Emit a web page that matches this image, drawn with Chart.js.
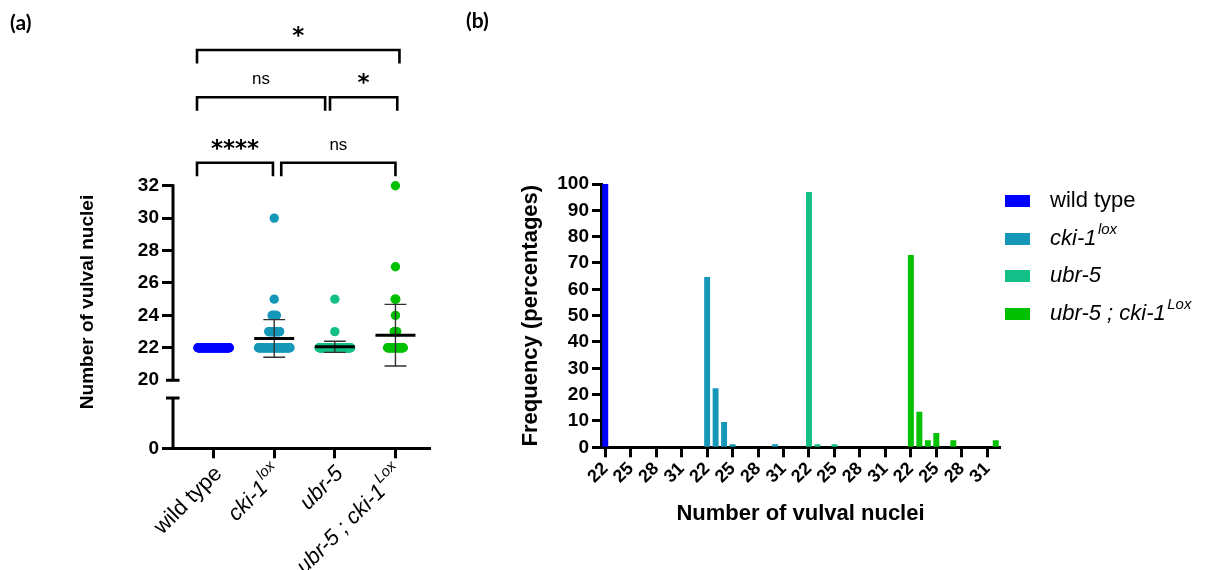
<!DOCTYPE html>
<html><head><meta charset="utf-8">
<script src="https://cdn.jsdelivr.net/npm/chart.js@4/dist/chart.umd.min.js"></script>
<style>
html,body{margin:0;padding:0;background:#fff;width:1206px;height:570px;overflow:hidden;position:relative;}
#ca{position:absolute;left:0;top:0;}
#cb{position:absolute;left:470px;top:0;}
.pl{position:absolute;font-family:Lato,'Liberation Sans',sans-serif;font-weight:bold;font-size:21px;color:#000;line-height:1;}
</style></head><body>
<canvas id="ca" width="470" height="570"></canvas>
<canvas id="cb" width="736" height="570"></canvas>
<div class="pl" style="left:10px;top:11px">(a)</div>
<div class="pl" style="left:466px;top:9px">(b)</div>
<script>
// ---------- data ----------
const genotypeBase   = ['wild type', 'cki-1', 'ubr-5', 'ubr-5 ; cki-1'];
const genotypeSup    = ['', 'lox', '', 'Lox'];
const genotypeItalic = [false, true, true, true];
const genotypeColors = ['#0000FF', '#1598B8', '#12C087', '#00C000'];

const nucleiValues = [22, 23, 24, 25, 26, 27, 28, 29, 30, 31, 32];

// panel (a): number of animals per vulval nuclei count
const wildTypeCounts = [80, 0, 0, 0, 0, 0, 0, 0, 0, 0, 0];
const cki1Counts     = [55, 19, 8, 1, 0, 0, 0, 0, 1, 0, 0];
const ubr5Counts     = [81, 1, 0, 1, 0, 0, 0, 0, 0, 0, 0];
const ubr5Cki1Counts = [27, 5, 1, 2, 0, 1, 0, 0, 0, 0, 1];
const meanValues = [null, 22.58, 22.06, 22.78];
const sdValues   = [null, 1.16, 0.34, 1.90];
const yTicksA = [20, 22, 24, 26, 28, 30, 32];

// significance comparisons (group indices) and labels
const comparisonPairs  = [[0, 1], [1, 3], [0, 2], [2, 3], [0, 3]];
const comparisonLabels = ['****', 'ns', 'ns', '*', '*'];

// panel (b): frequency in percent per vulval nuclei count
const wildTypePct = [100, 0, 0, 0, 0, 0, 0, 0, 0, 0, 0];
const cki1Pct     = [64.7, 22.4, 9.6, 1.2, 0, 0, 0, 0, 1.2, 0, 0];
const ubr5Pct     = [97.0, 1.2, 0, 1.2, 0, 0, 0, 0, 0, 0, 0];
const ubr5Cki1Pct = [73.0, 13.5, 2.7, 5.4, 0, 2.7, 0, 0, 0, 0, 2.7];
const xTickLabelsB = ['22', '25', '28', '31'];

// ---------- layout / style ----------
const FONT = '"Liberation Sans", Arial, sans-serif';
const bracketLayout = [
  {x0: 0.726, x1: 1.979, level: 0},
  {x0: 2.116, x1: 4.0,   level: 0},
  {x0: 0.726, x1: 2.84,  level: 1},
  {x0: 2.92,  x1: 4.03,  level: 1},
  {x0: 0.726, x1: 4.066, level: 2}
];
const bracketLevelPx = [23, 88.4, 135.7];
const bracketLegPx = 13.5;

function swarm(counts, gi) {
  const pts = [];
  counts.forEach((n, k) => {
    const half = Math.min(0.26, 0.005 * (n - 1));
    for (let j = 0; j < n; j++) {
      const off = n > 1 ? -half + 2 * half * j / (n - 1) : 0;
      pts.push({x: gi + 1 + off, y: nucleiValues[k]});
    }
  });
  return pts;
}

function richParts(ctx, i, size) {
  const segs = [{t: genotypeBase[i], sup: false}];
  if (genotypeSup[i]) segs.push({t: genotypeSup[i], sup: true});
  return segs.map(s => {
    const fs = s.sup ? size * 0.68 : size;
    const font = (genotypeItalic[i] ? 'italic ' : '') + fs + 'px ' + FONT;
    ctx.font = font;
    return {t: s.t, font, w: ctx.measureText(s.t).width + (!s.sup && genotypeItalic[i] && genotypeSup[i] ? 1.5 : 0), dy: s.sup ? -size * 0.42 : 0};
  });
}
function drawRich(ctx, i, x, y, size, alignRight) {
  const parts = richParts(ctx, i, size);
  const total = parts.reduce((a, p) => a + p.w, 0);
  let cx = alignRight ? x - total : x;
  ctx.textAlign = 'left';
  parts.forEach(p => { ctx.font = p.font; ctx.fillText(p.t, cx, y + p.dy); cx += p.w; });
}

// ---------- panel (a) ----------
const countsA = [wildTypeCounts, cki1Counts, ubr5Counts, ubr5Cki1Counts];
const dsA = countsA.map((c, i) => ({
  type: 'scatter',
  data: swarm(c, i),
  backgroundColor: genotypeColors[i],
  borderColor: genotypeColors[i],
  pointRadius: 4.7,
  pointBorderWidth: 0,
  pointHoverRadius: 0,
  clip: false
}));

const panelAPlugin = {
  id: 'panelA',
  afterDraw(chart) {
    const ctx = chart.ctx, ca = chart.chartArea;
    const xs = chart.scales.x, ys = chart.scales.y, y0 = chart.scales.y0;
    const ax = ca.left;
    ctx.save();
    ctx.strokeStyle = '#000';
    ctx.lineCap = 'butt';
    ctx.lineWidth = 3;
    const yTop = ys.getPixelForValue(32), y20 = ys.getPixelForValue(20);
    const yBrk = y0.getPixelForValue(3.1), yZero = y0.getPixelForValue(0);
    ctx.beginPath();
    ctx.moveTo(ax, yTop - 1.5); ctx.lineTo(ax, y20 + 1.5);
    ctx.moveTo(ax, yBrk - 1.5); ctx.lineTo(ax, yZero + 1.5);
    ctx.moveTo(ax - 7, y20); ctx.lineTo(ax + 6.5, y20);
    ctx.moveTo(ax - 7, yBrk); ctx.lineTo(ax + 6.5, yBrk);
    ctx.stroke();

    const unit = xs.getPixelForValue(2) - xs.getPixelForValue(1);
    meanValues.forEach((m, i) => {
      if (m == null) return;
      const xc = xs.getPixelForValue(i + 1);
      const yt = ys.getPixelForValue(m + sdValues[i]);
      const yb = ys.getPixelForValue(m - sdValues[i]);
      const ym = ys.getPixelForValue(m);
      ctx.strokeStyle = '#303030';
      ctx.lineWidth = 1.4;
      ctx.beginPath();
      ctx.moveTo(xc, yt); ctx.lineTo(xc, yb);
      ctx.moveTo(xc - 0.18 * unit, yt); ctx.lineTo(xc + 0.18 * unit, yt);
      ctx.moveTo(xc - 0.18 * unit, yb); ctx.lineTo(xc + 0.18 * unit, yb);
      ctx.stroke();
      ctx.strokeStyle = '#000';
      ctx.lineWidth = 3;
      ctx.beginPath();
      ctx.moveTo(xc - 0.33 * unit, ym); ctx.lineTo(xc + 0.33 * unit, ym);
      ctx.stroke();
    });

    ctx.strokeStyle = '#000';
    ctx.lineWidth = 2.6;
    ctx.fillStyle = '#000';
    comparisonPairs.forEach((p, k) => {
      const b = bracketLayout[k];
      const xl = xs.getPixelForValue(b.x0), xr = xs.getPixelForValue(b.x1);
      const yh = ca.top - bracketLevelPx[b.level];
      ctx.beginPath();
      ctx.moveTo(xl, yh + bracketLegPx); ctx.lineTo(xl, yh); ctx.lineTo(xr, yh); ctx.lineTo(xr, yh + bracketLegPx);
      ctx.stroke();
      const lbl = comparisonLabels[k];
      const xm = (xl + xr) / 2;
      ctx.textAlign = 'center';
      ctx.textBaseline = 'alphabetic';
      if (lbl === 'ns') {
        ctx.font = '17px ' + FONT;
        ctx.fillText(lbl, xm, yh - 13);
      } else {
        ctx.font = 'bold 23px "DejaVu Sans", sans-serif';
        ctx.fillText(lbl, xm, yh - 7);
      }
    });

    ctx.fillStyle = '#000';
    ctx.textBaseline = 'middle';
    genotypeBase.forEach((g, i) => {
      const x = xs.getPixelForValue(i + 1);
      ctx.save();
      ctx.translate(x + 5, ca.bottom + 22);
      ctx.rotate(-Math.PI / 4);
      drawRich(ctx, i, 0, 0, 22, true);
      ctx.restore();
    });

    ctx.save();
    ctx.translate(88, 302);
    ctx.rotate(-Math.PI / 2);
    ctx.font = 'bold 19px ' + FONT;
    ctx.textAlign = 'center';
    ctx.textBaseline = 'middle';
    ctx.fillText('Number of vulval nuclei', 0, 0);
    ctx.restore();
    ctx.restore();
  }
};

const tickFontA = {family: FONT, weight: 'bold', size: 19};
new Chart(document.getElementById('ca'), {
  type: 'scatter',
  data: {datasets: dsA},
  options: {
    responsive: false, animation: false, devicePixelRatio: 1, events: [],
    layout: {padding: {left: 133, top: 185.7, right: 40, bottom: 0}},
    plugins: {legend: {display: false}, tooltip: {enabled: false}},
    scales: {
      x: {
        type: 'linear', position: 'bottom', min: 0.33, max: 4.57,
        afterBuildTicks: s => { s.ticks = [1, 2, 3, 4].map(v => ({value: v})); },
        afterFit: s => { s.height = 570 - 448.3; },
        ticks: {display: false},
        grid: {drawOnChartArea: false, tickLength: 10, tickWidth: 3, tickColor: '#000'},
        border: {display: true, width: 3, color: '#000'}
      },
      y: {
        type: 'linear', position: 'left', stack: 'ya', stackWeight: 13, weight: 2,
        min: 19, max: 32,
        afterBuildTicks: s => { s.ticks = yTicksA.map(v => ({value: v})); },
        afterFit: s => { s.width = 40; },
        ticks: {color: '#000', font: tickFontA, padding: 3, autoSkip: false},
        grid: {drawOnChartArea: false, tickLength: 11, tickWidth: 3,
               tickColor: c => (c.tick && c.tick.value === 20) ? 'rgba(0,0,0,0)' : '#000'},
        border: {display: false}
      },
      y0: {
        type: 'linear', position: 'left', stack: 'ya', stackWeight: 3.2, weight: 1,
        min: 0, max: 3.2,
        afterBuildTicks: s => { s.ticks = [{value: 0}]; },
        afterFit: s => { s.width = 40; },
        ticks: {color: '#000', font: tickFontA, padding: 3, autoSkip: false},
        grid: {drawOnChartArea: false, tickLength: 11, tickWidth: 3, tickColor: '#000'},
        border: {display: false}
      }
    }
  },
  plugins: [panelAPlugin]
});

// ---------- panel (b) ----------
const pctB = [wildTypePct, cki1Pct, ubr5Pct, ubr5Cki1Pct];
const labelsB = [];
const slotB = [];
pctB.forEach((arr, g) => {
  slotB.push(labelsB.length);
  nucleiValues.forEach(v => labelsB.push(String(v)));
  if (g < pctB.length - 1) labelsB.push('');
});
const dsB = pctB.map((arr, g) => {
  const data = labelsB.map(() => null);
  arr.forEach((v, k) => { if (v > 0) data[slotB[g] + k] = v; });
  return {
    label: genotypeBase[g] + genotypeSup[g],
    data,
    backgroundColor: genotypeColors[g],
    borderWidth: 0,
    barPercentage: 0.7,
    categoryPercentage: 1,
    grouped: false
  };
});

const panelBPlugin = {
  id: 'panelB',
  afterDraw(chart) {
    const ctx = chart.ctx, ca = chart.chartArea;
    ctx.save();
    ctx.fillStyle = '#000';
    ctx.save();
    ctx.translate(61, (ca.top + ca.bottom) / 2);
    ctx.rotate(-Math.PI / 2);
    ctx.font = 'bold 22px ' + FONT;
    ctx.textAlign = 'center';
    ctx.textBaseline = 'middle';
    ctx.fillText('Frequency (percentages)', 0, 0);
    ctx.restore();
    ctx.font = 'bold 22px ' + FONT;
    ctx.textAlign = 'center';
    ctx.textBaseline = 'middle';
    ctx.fillText('Number of vulval nuclei', (ca.left + ca.right) / 2, 514);
    const rowY = [201, 239, 276, 314];
    genotypeBase.forEach((g, i) => {
      ctx.fillStyle = genotypeColors[i];
      ctx.fillRect(ca.right + 5, rowY[i] - 6, 25, 12);
      ctx.fillStyle = '#000';
      ctx.textBaseline = 'middle';
      drawRich(ctx, i, ca.right + 50, rowY[i], 22, false);
    });
    ctx.restore();
  }
};

new Chart(document.getElementById('cb'), {
  type: 'bar',
  data: {labels: labelsB, datasets: dsB},
  options: {
    responsive: false, animation: false, devicePixelRatio: 1, events: [],
    layout: {padding: {left: 71, top: 184, right: 206, bottom: 0}},
    plugins: {legend: {display: false}, tooltip: {enabled: false}},
    scales: {
      x: {
        type: 'category', offset: true,
        afterFit: s => { s.height = 570 - 447.3; },
        ticks: {
          autoSkip: false, maxRotation: 45, minRotation: 45, padding: 1,
          color: '#000', font: {family: FONT, weight: 'bold', size: 18},
          callback: (v, idx) => xTickLabelsB.includes(labelsB[idx]) ? labelsB[idx] : null
        },
        grid: {drawOnChartArea: false, offset: false, tickLength: 10, tickWidth: 3, tickColor: '#000'},
        border: {display: true, width: 3, color: '#000'}
      },
      y: {
        min: 0, max: 100,
        afterFit: s => { s.width = 60; },
        ticks: {stepSize: 10, color: '#000', font: {family: FONT, weight: 'bold', size: 19}, padding: 3, autoSkip: false},
        grid: {drawOnChartArea: false, tickLength: 9, tickWidth: 3, tickColor: '#000'},
        border: {display: true, width: 3, color: '#000'}
      }
    }
  },
  plugins: [panelBPlugin]
});
</script>
</body></html>
